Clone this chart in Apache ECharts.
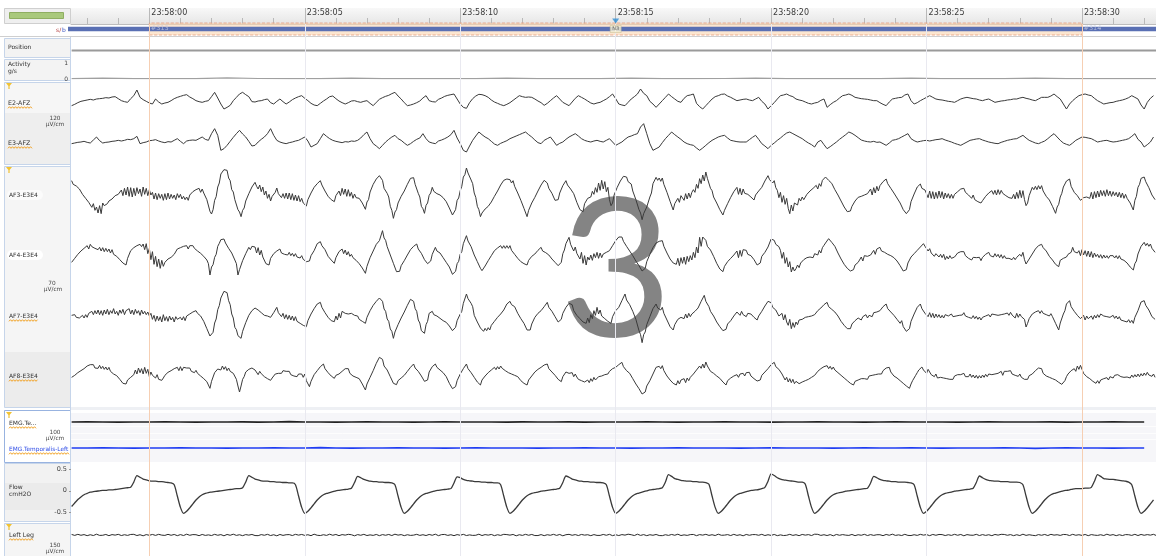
<!DOCTYPE html>
<html>
<head>
<meta charset="utf-8">
<script src="https://cdn.jsdelivr.net/npm/echarts@6.0.0/dist/echarts.min.js"></script>
<style>
html,body{margin:0;padding:0;background:#fff;}
#c{width:1156px;height:556px;}
</style>
</head>
<body>
<div id="c"></div>
<script>
// ---- time base: seconds relative to 23:58:00 ----
const viewStart = -2.52;
const viewEnd = 32.38;
const sampleStart = -2.5;
const majorTicks = [0, 5, 10, 15, 20, 25, 30];
const majorLabels = ['23:58:00', '23:58:05', '23:58:10', '23:58:15', '23:58:20', '23:58:25', '23:58:30'];
const minorTicks = [-2, -1, 1, 2, 3, 4, 6, 7, 8, 9, 11, 12, 13, 14, 16, 17, 18, 19, 21, 22, 23, 24, 26, 27, 28, 29, 31, 32];

// ---- hypnogram ----
const epochStarts = [-30, 0, 30];
const epochNumbers = ['#312', '#313', '#314'];
const epochStages = ['N3', 'N3', 'N3'];
const currentEpochStart = 0;
const epochLength = 30;
const stageDigit = '3';

// ---- body position (one value every 5 s, 2 = supine) ----
const positionVals = [2, 2, 2, 2, 2, 2, 2, 2];

// ---- activity, g/s, 1 Hz ----
const activityVals = [0.02,0.06,0.02,0.03,0.02,0.07,0.03,0.02,0.02,0.05,0.02,0.03,0.02,0.02,0.06,0.02,0.03,0.02,0.05,0.02,0.02,0.03,0.06,0.02,0.02,0.03,0.02,0.05,0.02,0.03,0.02,0.06,0.02,0.02,0.03,0.02];

// ---- E2-AFZ, µV, 10 Hz ----
const e2Afz = [
-17,-13,-8,-4,-2,0,2,0,3,4, 5,7,6,9,10,4,-2,-5,-7,4, 13,30,8,1,-4,-9,-12,3,-6,-12,
-9,-7,-2,4,8,11,14,16,9,4, -2,-5,-7,-4,-2,10,23,6,-12,-27, -22,-16,-2,8,18,23,16,10,-5,-6,
-3,-2,1,3,-8,-12,-4,3,-5,-12, -6,1,6,10,13,5,-2,-10,-15,-17, -10,-3,3,10,12,4,-3,-8,-12,-8,
-3,-2,-5,-7,-4,-2,-10,-17,-7,2, 7,11,14,19,23,12,3,-8,-17,-15, -12,-8,-3,6,13,-2,-5,-6,2,6,
11,14,16,18,3,-12,-22,-25,-8,4, 12,17,16,13,8,0,-6,-10,-14,-17, -13,-8,-1,6,13,10,8,9,8,3,
-3,-8,-16,-10,-2,6,13,3,-7,-12, -17,-6,5,13,8,3,-3,-9,-12,-9, -7,-2,3,10,18,4,-12,-15,-17,-7,
3,10,18,33,20,13,-4,-12,-22,-12, -2,8,18,10,3,-4,-7,5,13,15, 18,-10,-20,-27,-17,-7,3,10,13,17,
18,12,8,3,-2,0,2,3,0,-2, 3,8,-4,-12,-27,-17,-8,3,13,15, 18,13,10,3,0,-2,-6,-10,-12,-9,
-7,-1,3,-22,-14,-7,-2,6,13,15, 18,14,8,6,4,3,2,0,-2,-2, -8,-13,-17,-6,3,5,7,8,15,18,
-2,-12,-8,-2,3,8,13,8,3,1, 0,-2,-4,-5,-7,-2,3,6,8,6, 4,3,0,-2,1,3,-2,-7,-5,-3,
-2,0,1,3,3,6,8,5,3,0, -2,3,8,8,8,12,18,10,3,-12, -27,-12,-2,6,13,16,18,15,13,5,
-2,-7,-12,-10,-8,-7,-4,-2,0,3, 7,13,8,3,-15,-27,-7,5,13
];

// ---- E3-AFZ, µV, 10 Hz ----
const e3Afz = [
-5,-3,-1,0,2,-1,-3,6,15,4, -3,-1,0,2,3,5,3,5,8,7, 10,17,-5,-2,0,4,5,7,3,0,
-2,1,0,5,10,2,-5,3,5,6, 5,10,15,8,5,25,40,20,-25,-20, -10,2,14,25,35,24,15,2,-12,-10,
0,8,15,25,40,20,5,0,-3,-5, -2,0,3,5,10,15,3,-15,-10,-5, 10,25,17,10,5,2,0,-2,1,0,
3,2,5,12,22,30,10,-5,-12,-20, -10,0,8,15,20,10,5,-3,-10,-5, 2,8,12,25,10,0,-3,-5,3,6,
10,15,22,35,12,-5,-25,-30,-12,5, 18,30,22,15,10,2,-6,-10,-4,0, 4,10,14,18,22,26,30,22,15,6,
-2,-5,5,10,15,3,-10,-4,0,8, 15,20,25,18,10,5,2,0,3,5, 2,0,5,10,0,-10,-5,0,8,15,
18,22,25,45,55,25,-5,-25,-20,-15, -2,10,20,30,22,15,8,0,-5,-8, -10,-18,-25,-18,-10,-2,5,10,15,18,
20,12,5,3,1,0,0,0,7,14, 20,8,-5,-12,-20,-10,-3,5,12,20, 27,30,25,20,15,10,3,-3,-8,-15,
0,5,-8,-20,-14,-7,0,8,15,22, 30,26,20,13,6,3,1,0,2,-1, 0,-5,-10,-3,5,7,10,15,20,25,
10,4,0,2,4,5,3,5,7,8, 10,6,3,0,-4,-7,-10,-5,0,5, 7,9,10,6,3,0,-2,-4,-5,-1,
2,5,7,9,10,15,20,12,5,1, -3,-5,-1,3,10,18,25,15,5,-3, -7,-10,-3,5,10,15,14,12,10,5,
0,2,4,5,2,0,1,3,5,7, 10,17,25,8,0,-15,-8,0,15
];

// ---- AF3-E3E4, µV, 20 Hz ----
const af3E3E4 = [
43,32,37,27,33,18,18,2,4,-10,-5,-22,-18,-37,-26,-46,-36,-54,-32,-56,
-24,-32,-28,-26,-18,-18,-12,-12,-2,-4,2,4,15,-2,20,0,24,-4,22,-6,
20,-2,22,4,18,-4,24,2,20,-2,16,0,8,-12,6,-14,4,-10,2,-16,
4,-14,6,-12,2,-10,0,-14,4,-8,2,-12,-4,-14,-6,-16,0,-2,10,6,
16,10,20,8,18,6,4,-14,-17,-49,-57,-44,-16,-5,24,36,63,62,76,73,
74,51,43,16,9,-14,-17,-44,-51,-65,-46,-39,-18,-15,4,6,24,22,38,26,
18,30,10,24,0,12,-10,2,-18,-4,-8,8,21,4,8,-8,4,-10,6,-12,
6,-14,4,-16,0,-18,-2,-20,-10,-24,-20,-33,-14,-12,6,6,23,20,34,30,
43,30,28,12,13,-4,-2,-14,-10,-20,-2,-8,12,-2,20,2,18,-4,16,-4,
8,-10,3,-8,-4,-10,-7,-24,-26,-43,-21,-14,9,15,32,32,48,46,58,52,
44,20,18,5,-6,-34,-46,-70,-51,-44,-24,-20,-4,-5,12,14,32,34,50,50,
52,32,28,5,-6,-34,-41,-55,-31,-24,-1,6,23,11,16,4,10,0,6,-8,
-6,-20,-17,-39,-44,-60,-57,-44,-16,-9,13,26,54,61,81,66,64,45,34,6,
-7,-34,-44,-65,-54,-56,-42,-44,-34,-40,-21,-20,-4,-4,12,15,30,30,44,43,
48,42,46,36,43,26,24,6,3,-16,-20,-40,-44,-65,-46,-44,-24,-22,-7,-6,
12,15,30,30,44,40,36,20,20,5,2,-16,-17,-14,6,10,28,28,43,30,
32,18,23,4,-1,-22,-27,-44,-40,-50,-26,-24,-10,-4,-6,11,2,22,8,36,
14,44,18,40,10,23,-14,-32,-24,0,6,23,24,42,42,56,55,54,40,40,
33,12,8,-14,-17,-44,-54,-74,-56,-54,-36,-35,-6,6,34,36,53,44,51,41,
51,32,28,8,3,-19,-24,-45,-26,-26,-10,-22,-2,-8,-16,4,-12,6,-8,8,
16,8,32,20,49,34,60,42,69,50,44,20,13,-6,-6,-24,-27,-44,-44,-60,
-46,-44,-26,-24,-7,-6,10,8,23,2,20,0,18,5,6,2,0,-6,-4,-15,
0,-2,12,10,23,24,42,42,58,46,49,36,43,22,14,-8,8,-22,-2,-28,
-10,-40,-56,-30,-48,-24,-21,-30,-10,-18,-6,-14,-6,2,-2,12,6,20,14,29,
18,34,26,44,38,54,48,44,44,35,34,16,16,0,-2,-18,-17,-36,-36,-50,
-47,-48,-34,-34,-18,-20,-7,-8,-4,0,0,6,4,5,18,0,22,6,26,12,
28,26,40,36,48,34,34,20,23,6,6,-9,-7,-24,-26,-44,-44,-56,-52,-44,
-20,-14,3,6,24,22,33,20,25,15,14,-8,12,-10,10,-12,8,-10,12,-8,
10,-12,6,-8,4,-10,2,-10,2,0,10,6,18,15,20,8,12,0,4,-10,
0,-14,-8,-20,-14,-24,-17,-18,-4,-6,6,2,13,2,14,0,16,2,14,5,
10,-2,2,-8,-2,-10,2,-12,8,-10,14,-8,13,-14,-32,-24,-2,2,23,16,
26,16,28,18,28,12,12,-4,-2,-15,-16,-34,-36,-55,-36,-28,-6,5,24,26,
42,38,48,26,24,8,13,-2,-2,-16,-12,-8,-10,-6,-6,-10,8,-12,10,-8,
12,-6,14,-2,13,-4,16,-2,12,-4,10,-2,8,-6,8,-8,6,-10,2,-10,
-6,-24,-26,-45,-16,-4,23,32,50,50,54,40,43,22,18,0,-2,-14
];

// ---- AF4-E3E4, µV, 20 Hz ----
const af4E3E4 = [
-22,-24,-10,-12,2,-2,12,8,20,16,28,18,32,25,30,20,26,16,23,12,
22,10,20,10,18,6,16,2,8,-4,0,-14,-12,-24,-20,-30,-10,-6,13,10,
22,18,28,22,32,25,33,16,34,4,20,-14,10,-28,-4,-35,-12,-40,-16,-34,
-22,-26,-12,-18,-7,-10,2,2,18,12,22,16,26,20,28,18,28,22,28,20,
24,12,16,5,8,-4,-2,-15,-26,-60,-36,-29,-7,2,26,35,46,40,48,36,
34,20,23,6,4,-15,-26,-60,-44,-39,-17,-14,4,6,23,16,26,20,24,6,
22,0,14,-6,-4,-26,-27,-30,-10,-10,4,0,12,8,18,6,12,2,8,0,
8,-2,5,-4,4,-6,0,-9,-2,-13,-8,-20,-17,-18,-2,-2,13,16,34,35,
40,28,33,16,14,-4,-1,-15,-12,-25,-8,-8,10,10,18,4,15,0,10,-4,
2,-8,-2,-16,-14,-26,-22,-39,-40,-55,-34,-28,-8,-5,12,14,32,30,43,46,
73,51,44,25,20,0,-4,-25,-31,-50,-52,-49,-32,-32,-17,-16,0,0,16,15,
26,22,33,18,18,5,4,-14,-14,-26,-22,-18,2,4,23,12,18,6,8,-8,
-8,-22,-17,-36,-40,-58,-57,-49,-26,-19,3,10,34,40,58,42,42,25,20,0,
-4,-20,-17,-40,-47,-48,-33,-34,-17,-18,-2,-2,13,9,21,17,28,20,28,20,
28,20,28,14,16,2,3,-10,-8,-20,-17,-26,-20,-30,-16,-18,-4,-8,3,0,
14,10,23,12,18,7,13,0,2,-12,-10,-22,-17,-32,-32,-22,4,15,34,36,
53,32,34,12,24,5,4,-12,8,-25,-2,-30,-6,-15,0,-16,4,-8,8,-10,
6,-8,3,-2,8,2,13,12,28,28,43,40,54,50,54,41,43,26,26,12,
13,-2,-2,-18,-17,-32,-32,-48,-47,-40,-20,-15,2,4,22,25,36,31,41,35,
43,26,24,6,3,-12,-10,-24,-22,-28,-10,-32,-8,-25,-6,-28,-4,-20,-2,-15,
8,-8,24,6,53,26,54,55,44,26,28,15,14,-4,-6,-25,-26,-42,-38,-50,
-34,-34,-20,-25,-10,-12,0,-5,12,-8,14,-4,16,10,14,2,8,-2,3,-14,
-16,-30,-27,-24,-4,-4,8,5,24,28,48,45,44,32,36,25,14,-10,8,-25,
-8,-36,-20,-51,-36,-48,-41,-30,-38,-24,-21,-14,-18,-8,-12,-6,-2,-8,4,9,
0,14,6,22,29,36,42,49,48,38,43,26,24,6,3,-12,-12,-28,-27,-40,
-36,-48,-42,-44,-30,-34,-22,-20,-6,-18,-2,-2,-4,0,0,0,14,2,18,12,
23,12,18,8,13,2,8,-2,3,-8,-4,-18,-17,-32,-32,-48,-47,-44,-24,-20,
-6,-1,4,10,14,19,24,30,34,26,30,12,19,6,12,-4,4,-1,-6,2,
-8,2,-14,-4,-12,-2,-10,-4,-6,-1,6,0,10,5,10,-2,2,-10,-4,-15,
-7,-13,-8,-14,-7,-17,-7,-10,2,-2,8,-2,4,-6,4,-5,2,-8,1,-10,
-2,-10,-4,-10,-5,-14,-7,-14,-7,-10,2,-4,8,-14,-27,-28,-12,-12,3,2,
18,16,28,25,32,22,28,12,12,-4,-2,-15,-14,-28,-24,-35,-16,-12,-10,-5,
-6,2,6,8,23,10,16,6,13,-2,16,0,13,-4,12,-6,10,-8,6,-5,
2,-8,1,-10,0,-9,-2,-10,-2,-8,-2,-9,-2,-11,-2,-12,-6,-16,-12,-24,
-22,-36,-32,-45,-26,-18,3,6,26,30,38,28,35,26,33,20,22,8
];

// ---- AF7-E3E4, µV, 20 Hz ----
const af7E3E4 = [
2,-2,4,-4,0,-6,-3,2,-6,4,-4,8,2,14,4,16,6,18,4,16,
2,18,6,20,4,16,8,22,6,14,2,18,8,20,4,16,10,22,6,18,
4,20,8,16,2,18,6,14,4,12,0,8,-10,2,-16,0,-14,-2,-18,4,
-14,-2,-16,0,-12,-4,-18,-2,-10,-6,-4,-12,-2,-14,0,-6,6,2,12,6,
16,8,14,0,0,-16,-18,-38,-42,-60,-59,-49,-21,-9,19,31,54,58,74,73,
70,46,34,6,-6,-34,-41,-59,-56,-67,-46,-40,-20,-16,2,2,16,12,24,18,
18,14,10,8,2,2,0,-6,-4,-4,10,10,26,10,12,-2,8,-8,4,-10,
2,-12,0,-14,-2,-16,-10,-22,-16,-28,-22,-32,-14,-12,6,6,22,22,36,32,
41,26,26,10,10,-4,-2,-14,-8,-17,0,-12,8,-6,14,8,8,10,6,6,
8,2,2,-4,0,-10,-6,-16,-12,-22,-4,-2,16,16,32,30,44,42,54,48,
44,21,14,-9,-16,-39,-46,-67,-48,-44,-26,-24,-6,-6,12,14,32,34,50,48,
44,22,14,-12,-21,-44,-42,-52,-26,-16,8,8,14,4,10,0,6,-7,-2,-14,
-8,-19,-14,-30,-30,-44,-39,-34,-14,-12,6,14,38,44,66,52,52,38,28,2,
-4,-18,-16,-36,-39,-46,-37,-44,-35,-42,-28,-30,-16,-18,-4,-7,6,4,18,16,
36,38,44,34,39,28,26,8,6,-8,-4,-22,-24,-42,-44,-42,-24,-22,-4,-6,
8,4,16,14,28,26,41,26,28,14,16,-2,-4,-18,-14,-10,8,8,26,24,
38,33,34,16,16,2,6,-8,-6,-18,-12,-22,-6,-20,4,-8,16,2,26,6,
18,0,6,-8,-4,-16,-10,-22,-2,0,16,14,26,28,46,48,66,48,48,34,
36,14,10,-10,-14,-44,-56,-80,-56,-48,-26,-22,-2,2,22,22,36,24,29,18,
26,8,6,-12,-14,-32,-30,-42,-26,-24,-10,-10,-4,2,-8,6,-6,8,-2,6,
4,14,12,24,30,44,40,62,44,38,28,14,16,0,-2,-18,-18,-32,-30,-44,
-39,-40,-24,-26,-14,-14,0,-2,12,8,2,14,4,10,-2,8,2,6,0,-4,
-2,-12,0,-2,14,14,30,30,44,38,40,26,30,18,16,0,-6,8,-12,4,
-18,-28,-10,-38,-20,-34,-18,-26,-12,-18,-10,-12,-4,-8,-2,2,0,6,4,10,
16,12,24,22,34,30,41,28,32,20,24,12,16,0,0,-16,-14,-28,-26,-38,
-34,-38,-24,-26,-14,-18,-6,-12,-12,-2,-8,4,-6,2,8,-2,10,4,12,6,
16,14,28,24,36,22,24,12,16,2,4,-10,-8,-22,-14,-32,-32,-46,-44,-38,
-16,-12,6,8,26,24,36,22,24,8,10,-2,10,-4,8,-6,6,-4,4,-6,
2,-6,4,-2,0,-4,6,-2,4,0,6,2,8,3,10,0,6,-4,2,-7,
1,-8,-1,-10,-3,-12,-4,-10,0,-6,4,-3,6,0,4,2,2,2,4,-2,
6,0,9,2,11,3,8,-6,8,-4,6,-2,2,-10,-33,-22,-8,-8,6,2,
12,6,16,8,16,8,14,4,10,0,7,-2,-4,-22,-24,-42,-21,-16,6,16,
36,34,46,28,28,14,16,2,4,-8,-8,2,-12,0,-8,-14,0,-10,2,-6,
4,-4,6,2,0,4,-2,2,-4,0,2,-7,0,-9,-2,-12,-6,-15,-9,-18,
-11,-20,-13,-22,-4,-2,16,22,42,43,46,32,36,18,16,-2,0,-10
];

// ---- AF8-E3E4, µV, 20 Hz ----
const af8E3E4 = [
-4,-8,2,-2,10,4,16,10,22,18,30,24,34,28,34,24,30,23,32,22,
29,20,27,18,26,14,18,6,12,1,6,-10,-8,-22,-19,-24,-12,-16,-4,-6,
4,18,6,24,10,22,6,26,8,20,-2,12,2,8,-6,4,-10,-4,-13,-6,
2,-2,11,6,16,12,22,16,26,16,28,16,26,20,24,18,24,14,20,10,
17,8,12,0,4,-8,-4,-17,-18,-37,-16,-10,10,8,21,18,18,30,20,28,
16,24,14,20,8,12,-10,-30,-48,-30,-10,-2,12,8,20,14,24,18,18,14,
4,14,7,10,-2,4,-8,-4,-13,-6,0,6,12,8,14,8,16,10,14,12,
14,4,10,0,6,-2,6,0,6,-4,6,-14,-16,-32,-16,-14,4,3,16,14,
28,24,36,22,24,10,12,0,4,-7,2,-4,6,2,14,10,22,18,22,8,
12,0,6,-4,2,-8,-4,-24,-26,-42,-24,-22,-4,-2,16,18,38,40,56,53,
50,30,30,18,16,-2,-4,-22,-24,-26,-14,-18,-6,-12,2,0,14,12,26,24,
36,24,28,14,16,0,0,-16,-14,-12,12,14,28,24,36,26,30,18,22,10,
16,-2,-4,-22,-24,-38,-34,-32,-14,-12,6,6,22,22,36,22,24,10,11,-4,
-4,-18,-16,-27,-12,-14,0,-2,10,6,18,14,26,19,28,21,30,23,28,16,
20,10,16,6,12,2,8,-2,0,-14,-10,-22,-18,-27,-12,-14,0,-2,12,8,
20,15,26,22,33,27,36,22,24,12,16,2,4,-10,-6,-17,-2,-2,12,8,
8,4,10,-2,6,-3,-10,-6,-14,-10,-18,-23,-12,-20,-8,-16,-4,-12,-8,-2,
-6,0,-4,4,2,6,14,10,22,16,26,22,34,30,41,28,30,16,20,8,
8,-8,-8,-24,-22,-38,-38,-54,-49,-48,-30,-30,-14,-12,6,8,26,20,29,22,
31,16,16,0,1,-12,-8,-22,-18,-27,-14,-24,-12,-18,-8,-20,-6,-14,-4,-8,
6,4,18,16,30,23,36,24,42,30,30,14,18,8,12,0,4,-7,-4,-18,
-14,-27,-14,-16,-6,-12,0,-6,4,-4,6,2,8,0,10,4,11,0,6,-8,
-4,-15,-9,-12,2,0,12,8,22,20,34,30,41,28,32,20,26,6,4,-12,
-4,-18,-8,-20,-10,-23,-16,-22,-23,-20,-18,-16,-14,-12,-10,-8,-4,-2,2,7,
14,10,22,16,28,22,31,22,29,20,27,18,22,10,14,2,6,-6,-2,-14,
-10,-22,-18,-27,-16,-22,-12,-18,-8,-14,-8,-2,-10,0,-6,2,-2,4,0,6,
12,6,16,12,24,18,26,12,14,0,6,-6,-2,-14,-9,-22,-18,-30,-26,-37,
-24,-14,-6,2,10,18,22,27,18,24,8,20,12,4,10,-2,6,-6,-8,-4,
-10,-6,-12,-8,-13,-10,-4,-10,0,-6,4,-2,4,-2,8,-2,4,-2,6,-4,
3,-6,2,-7,1,-6,3,-4,5,-2,6,0,4,2,6,4,8,3,14,2,
14,8,14,8,16,6,12,2,8,-1,6,-4,0,-10,-4,-10,1,-4,6,4,
16,12,24,18,22,8,12,0,6,-4,2,-8,-2,-12,-8,-19,-14,-25,-19,-14,
-2,6,12,16,20,22,14,30,20,32,20,8,10,-2,4,-8,-4,-16,-11,-22,
-14,-22,-12,-18,-8,-14,-5,-12,-2,-6,-6,2,-4,4,2,-2,4,-4,2,-3,
1,-6,3,-4,4,-3,6,-2,7,0,9,2,11,3,9,-1,6,-4
];

// ---- EMG, µV, 2 Hz ----
const emgTe = [
0,1,0,-1,0,0,1,0,-1,0, 0,1,-1,0,2,0,0,-1,0,1, 0,0,-1,0,1,0,0,0,-1,1,
0,0,1,-1,0,0,0,1,0,-1, 0,0,1,0,0,-1,0,0,1,0, 0,-1,0,1,0,0,0,-1,0,1,
0,0,0,1,-1,0,0,1,0,0
];
const emgTemporalisLeft = [
0,0,1,0,-1,0,0,1,0,0, -1,0,0,1,0,0,2,0,-1,0, 0,1,0,0,-1,0,1,0,0,0,
-1,0,0,1,0,0,-1,0,0,1, 0,0,0,-1,0,1,0,0,0,-1, 0,1,0,0,1,0,-1,0,0,0,
1,0,-2,0,1,0,0,-1,0,0
];

// ---- Flow, cmH2O, 10 Hz ----
const flowVals = [
-0.36,-0.28,-0.2,-0.14,-0.09,-0.06,-0.03,-0.02,-0.01,0,0.01,0.01,0.02,0.02,0.03,0.04,0.05,0.06,0.07,0.08,0.2,0.35,
0.31,0.27,0.25,0.23,0.22,0.22,0.21,0.21,0.2,0.19,0.18,0.14,-0.12,-0.38,-0.52,
-0.47,-0.39,-0.3,-0.21,-0.14,-0.09,-0.06,-0.04,-0.03,-0.02,-0.01,0,0.01,0.02,0.03,0.04,0.05,0.05,0.07,0.2,0.35,
0.31,0.27,0.25,0.23,0.22,0.22,0.21,0.21,0.2,0.2,0.19,0.19,0.18,0.18,0.14,-0.12,-0.38,-0.52,
-0.47,-0.39,-0.3,-0.21,-0.14,-0.09,-0.06,-0.04,-0.02,0,0.01,0.02,0.03,0.04,0.06,0.19,0.33,
0.3,0.26,0.24,0.22,0.21,0.21,0.2,0.2,0.19,0.19,0.18,0.14,-0.12,-0.38,-0.52,
-0.47,-0.39,-0.3,-0.21,-0.14,-0.09,-0.06,-0.04,-0.02,0,0.01,0.02,0.03,0.04,0.05,0.18,0.32,
0.3,0.26,0.24,0.23,0.22,0.21,0.21,0.2,0.2,0.19,0.19,0.18,0.18,0.14,-0.12,-0.38,-0.52,
-0.47,-0.39,-0.3,-0.21,-0.14,-0.09,-0.06,-0.04,-0.03,-0.01,0,0.01,0.02,0.03,0.04,0.06,0.19,0.34,
0.31,0.27,0.25,0.23,0.22,0.21,0.21,0.2,0.2,0.19,0.19,0.18,0.14,-0.12,-0.38,-0.52,
-0.47,-0.39,-0.3,-0.21,-0.14,-0.09,-0.06,-0.04,-0.02,0,0.02,0.03,0.04,0.05,0.07,0.2,0.37,
0.33,0.28,0.26,0.24,0.23,0.22,0.22,0.21,0.21,0.2,0.2,0.19,0.15,-0.12,-0.38,-0.52,
-0.47,-0.39,-0.3,-0.21,-0.14,-0.09,-0.06,-0.04,-0.02,0,0.01,0.02,0.03,0.05,0.08,0.22,0.39,
0.35,0.3,0.27,0.25,0.24,0.23,0.22,0.21,0.2,0.2,0.15,-0.12,-0.38,-0.52,
-0.47,-0.39,-0.3,-0.21,-0.14,-0.09,-0.06,-0.04,-0.03,-0.01,0,0.01,0.02,0.03,0.04,0.05,0.06,0.18,0.33,
0.3,0.26,0.24,0.23,0.22,0.21,0.21,0.2,0.2,0.2,0.19,0.18,0.14,-0.12,-0.38,-0.52,
-0.47,-0.39,-0.3,-0.21,-0.14,-0.09,-0.06,-0.04,-0.03,-0.01,0,0.01,0.02,0.03,0.04,0.06,0.19,0.34,
0.3,0.26,0.24,0.23,0.22,0.22,0.21,0.21,0.21,0.2,0.2,0.2,0.19,0.14,-0.12,-0.38,-0.52,
-0.47,-0.39,-0.3,-0.21,-0.14,-0.09,-0.06,-0.04,-0.02,0,0.01,0.02,0.04,0.05,0.05,0.05,0.06,0.06,0.08,0.22,0.37,
0.33,0.28,0.27,0.26,0.26,0.25,0.24,0.23,0.22,0.2,0.14,-0.12,-0.38,-0.52,
-0.47,-0.39,-0.3,-0.21
];

// ---- Left Leg EMG, µV, 10 Hz ----
const leftLeg = [
4,-3,5,-2,3,-5,2,-4,6,-3, -2,4,-5,3,-1,5,-4,2,-3,4, 5,-4,2,-6,3,-2,4,-3,5,-1,
-3,5,-2,4,-5,3,-4,6,-2,3, 2,-5,4,-3,1,-4,5,-2,3,-6, 4,-2,6,-3,2,-5,3,-1,4,-4,
-5,3,-2,5,-4,2,-6,4,-3,2, 3,-4,5,-1,4,-3,2,-5,6,-2, -4,2,-3,6,-2,4,-5,3,-1,5,
2,-6,3,-2,5,-4,1,-3,4,-5, 3,-2,4,-4,6,-1,3,-5,2,-3, -1,5,-3,2,-4,4,-2,6,-5,3,
4,-3,2,-5,3,-2,5,-4,1,-3, -2,6,-4,3,-1,4,-5,2,-3,5, 3,-1,4,-6,2,-3,5,-2,4,-4,
-4,3,-5,2,-2,5,-3,4,-6,2, 5,-2,3,-4,4,-1,2,-5,3,-3, -3,4,-2,5,-5,2,-4,3,-1,6,
2,-4,6,-3,3,-5,2,-2,4,-4, -5,2,-3,4,-2,6,-4,1,-3,3, 4,-5,3,-1,5,-3,2,-4,6,-2,
-1,3,-4,5,-3,2,-6,4,-2,3, 3,-2,5,-4,2,-3,4,-5,1,-4, -2,5,-3,2,-5,4,-1,3,-4,6,
5,-3,2,-4,3,-6,4,-2,3,-1, -3,4,-5,2,-2,5,-4,3,-3,2, 2,-5,4,-2,6,-3,1,-4,5,-3,
-4,2,-3,5,-1,3,-5,4,-2,4, 3,-4,2,-3,5,-2,4,-6,3,-1, -2,5,-4,3,-3,2,-5,4,-1,5,
4,-2,3,-5,2,-4,6,-3,2,-2, -5,3,-2,4,-4,5,-1,2,-3,4, 3,-4,5,-2,2,-3,4,-5,3,-1,
-3,2,-4,6,-2,3,-5,2,-4,3, 2,-3,5,-4,4,-2,3,-1,5,-5
];

// ---------------- layout ----------------
const PLOT_LEFT = 71;
const PLOT_WIDTH = 1085;
const FONT = '"DejaVu Sans", sans-serif';

const grids = [], xAxes = [], yAxes = [], series = [];

function addGrid(top, height, yOpt) {
  const gi = grids.length;
  grids.push({ left: PLOT_LEFT, top: top, width: PLOT_WIDTH, height: height, containLabel: false });
  xAxes.push({ gridIndex: gi, type: 'value', min: viewStart, max: viewEnd, show: false });
  yAxes.push(Object.assign({ gridIndex: gi, type: 'value', show: false, splitLine: { show: false } }, yOpt));
  return { x: xAxes.length - 1, y: yAxes.length - 1, g: gi };
}

function addTrace(ax, values, rate, lineStyle, extra) {
  series.push(Object.assign({
    type: 'line',
    xAxisIndex: ax.x, yAxisIndex: ax.y,
    data: values.map((v, i) => [sampleStart + i / rate, v]),
    showSymbol: false, symbol: 'none', silent: true, animation: false,
    clip: false,
    lineStyle: lineStyle, z: 3
  }, extra || {}));
}

// time header
const headerGrid = grids.length;
grids.push({ left: PLOT_LEFT, top: 8, width: PLOT_WIDTH, height: 16 });
xAxes.push({
  gridIndex: headerGrid, type: 'value', min: viewStart, max: viewEnd, position: 'bottom',
  axisLine: { show: true, onZero: false, lineStyle: { color: '#bdbdbd', width: 1 } },
  axisTick: { show: true, inside: true, length: 16, customValues: majorTicks, lineStyle: { color: '#b9b9b9' } },
  axisLabel: {
    show: true, inside: true, customValues: majorTicks, margin: 11,
    align: 'left', verticalAlign: 'middle', padding: [0, 0, 0, 2],
    fontSize: 8, fontFamily: FONT, color: '#3a3a3a',
    formatter: v => majorLabels[majorTicks.indexOf(v)]
  },
  splitLine: { show: false }
});
xAxes.push({
  gridIndex: headerGrid, type: 'value', min: viewStart, max: viewEnd, position: 'bottom',
  axisLine: { show: false, onZero: false },
  axisTick: { show: true, inside: true, length: 6, customValues: minorTicks, lineStyle: { color: '#b9b9b9' } },
  axisLabel: { show: false },
  splitLine: { show: false }
});
yAxes.push({ gridIndex: headerGrid, type: 'value', min: 0, max: 1, show: false });

// vertical time grid across all channels
const overlay = addGrid(24, 532, { min: 0, max: 1 });
series.push({
  type: 'line', xAxisIndex: overlay.x, yAxisIndex: overlay.y, data: [], silent: true, z: 1,
  markLine: {
    silent: true, symbol: ['none', 'none'], animation: false, label: { show: false },
    data: majorTicks.map(v => ({
      xAxis: v,
      lineStyle: { type: 'solid', width: 1, color: (v === currentEpochStart || v === currentEpochStart + epochLength) ? '#f6cfb3' : '#e9e9f0' }
    }))
  }
});

// hypnogram strip
const hyp = addGrid(23, 12, { min: -1, max: 1 });
const stageLevel = { N3: 0 };
const hypData = [];
epochStarts.forEach((s, k) => { hypData.push([s, stageLevel[epochStages[k]]]); hypData.push([s + epochLength, stageLevel[epochStages[k]]]); });
series.push({
  type: 'line', xAxisIndex: hyp.x, yAxisIndex: hyp.y, data: hypData, showSymbol: false, symbol: 'none',
  silent: true, animation: false, clip: true, z: 4,
  lineStyle: { color: '#5a70b4', width: 4.5 },
  markArea: {
    silent: true,
    itemStyle: { color: 'rgba(250,214,176,0.6)', borderColor: '#e59c7e', borderType: 'dashed', borderWidth: 0.8 },
    data: [[{ xAxis: currentEpochStart }, { xAxis: currentEpochStart + epochLength }]]
  }
});
series.push({
  type: 'scatter', xAxisIndex: hyp.x, yAxisIndex: hyp.y, silent: true, animation: false, z: 6,
  symbolSize: 1, itemStyle: { color: 'rgba(0,0,0,0)' },
  data: epochStarts.map((s, k) => [s, 0, epochNumbers[k]]),
  label: { show: true, position: 'right', distance: 1, offset: [0, -1], formatter: p => p.data[2], fontSize: 6.5, fontFamily: FONT, color: '#c4cae2' }
});
series.push({
  type: 'scatter', xAxisIndex: hyp.x, yAxisIndex: hyp.y, silent: true, animation: false, z: 7,
  symbol: 'rect', symbolSize: [11, 7],
  itemStyle: { color: '#f7f2d4', borderColor: '#c4b98e', borderWidth: 0.6 },
  data: [[currentEpochStart + epochLength / 2, 0]],
  label: { show: true, position: 'inside', formatter: epochStages[1], fontSize: 5, fontFamily: FONT, color: '#444' }
});
series.push({
  type: 'scatter', xAxisIndex: hyp.x, yAxisIndex: hyp.y, silent: true, animation: false, z: 7,
  symbol: 'triangle', symbolRotate: 180, symbolSize: [7, 5], symbolOffset: [0, -8],
  itemStyle: { color: '#2f8fd5' },
  data: [[currentEpochStart + epochLength / 2, 0]]
});

// position
const pos = addGrid(43, 15, { min: 0, max: 4 });
series.push({
  type: 'line', xAxisIndex: pos.x, yAxisIndex: pos.y, clip: true, silent: true, animation: false,
  data: positionVals.map((v, i) => [sampleStart + i * 5, v]), showSymbol: false, symbol: 'none',
  lineStyle: { color: '#9a9a9a', width: 2 }, z: 3
});

// activity
const act = addGrid(63, 16, {
  min: 0, max: 1, interval: 1, show: true,
  axisLine: { show: false, onZero: false }, axisTick: { show: false },
  axisLabel: { show: true, fontSize: 6, fontFamily: FONT, color: '#444', margin: 3 }
});
addTrace(act, activityVals, 1, { color: '#a0a0a0', width: 1.2 }, { clip: true });

// EEG channels
const eegStyle = { color: '#3a3a3a', width: 1 };
addTrace(addGrid(70, 60, { min: -90, max: 90 }), e2Afz, 10, eegStyle);
addTrace(addGrid(112, 60, { min: -90, max: 90 }), e3Afz, 10, eegStyle);
addTrace(addGrid(165, 60, { min: -90, max: 90 }), af3E3E4, 20, eegStyle);
addTrace(addGrid(225, 60, { min: -90, max: 90 }), af4E3E4, 20, eegStyle);
addTrace(addGrid(286, 60, { min: -90, max: 90 }), af7E3E4, 20, eegStyle);
addTrace(addGrid(346, 60, { min: -90, max: 90 }), af8E3E4, 20, eegStyle);

// EMG
addTrace(addGrid(412, 20, { min: -50, max: 50 }), emgTe, 2, { color: '#222', width: 1.7 });
addTrace(addGrid(438, 20, { min: -50, max: 50 }), emgTemporalisLeft, 2, { color: '#1f3cf2', width: 1.7 });

// flow
const flow = addGrid(469, 43.6, {
  min: -0.5, max: 0.5, interval: 0.5, show: true,
  axisLine: { show: false, onZero: false },
  axisTick: { show: true, length: 2, lineStyle: { color: '#999' } },
  axisLabel: { show: true, fontSize: 6.5, fontFamily: FONT, color: '#444', margin: 4 }
});
addTrace(flow, flowVals, 10, { color: '#3a3a3a', width: 1.3 }, { smooth: 0.25 });

// left leg
addTrace(addGrid(525, 20, { min: -75, max: 75 }), leftLeg, 10, { color: '#2a2a2a', width: 1 });

// ---------------- panel decoration ----------------
const gfx = [];
function box(x, y, w, h, fill, stroke, z, r) {
  gfx.push({ type: 'rect', silent: true, z: z === undefined ? -10 : z,
    shape: { x: x, y: y, width: w, height: h, r: r || 0 },
    style: { fill: fill, stroke: stroke || null, lineWidth: 1 } });
}
function hline(x1, x2, y, color) {
  gfx.push({ type: 'line', silent: true, z: -9, shape: { x1: x1, y1: y, x2: x2, y2: y }, style: { stroke: color, lineWidth: 1 } });
}
function vline(x, y1, y2, color) {
  gfx.push({ type: 'line', silent: true, z: -9, shape: { x1: x, y1: y1, x2: x, y2: y2 }, style: { stroke: color, lineWidth: 1 } });
}
function txt(x, y, s, size, color, align) {
  gfx.push({ type: 'text', silent: true, z: -4, x: x, y: y,
    style: { text: s, fontSize: size, fontFamily: FONT, fill: color || '#333', align: align || 'left', verticalAlign: 'middle' } });
}
function wavy(x1, x2, y) {
  const pts = [];
  for (let x = x1, k = 0; x <= x2; x += 1.5, k++) pts.push([x, y + (k % 2 ? -0.8 : 0.8)]);
  gfx.push({ type: 'polyline', silent: true, z: -4, shape: { points: pts }, style: { stroke: '#f2a224', lineWidth: 1, fill: null } });
}
function funnel(x, y) {
  gfx.push({ type: 'polygon', silent: true, z: -4,
    shape: { points: [[x, y], [x + 6, y], [x + 3.6, y + 3], [x + 3.6, y + 6], [x + 2.4, y + 6], [x + 2.4, y + 3]] },
    style: { fill: '#f1c232' } });
}

// header strip
box(71, 8, 1085, 16, new echarts.graphic.LinearGradient(0, 0, 0, 1, [{ offset: 0, color: '#f8f8f8' }, { offset: 1, color: '#e6e6e6' }]), null, -11);
box(4.5, 8.5, 66, 15, '#efefef', '#cfcfcf');
box(9.5, 12.5, 54, 6, '#a9c97c', '#8fae62', -9);
hline(0, 1156, 36.5, '#cfcfcf');
txt(56, 30, 's/', 6, '#b23a3a');
txt(62, 30, 'b', 6, '#3c55c0');

// plot-area bands
box(71, 407, 1085, 3, '#eef0f4', null, -11);
box(71, 413, 1085, 49, '#f6f6f9', null, -11);
hline(71, 1156, 426.5, '#fdfdfd');
hline(71, 1156, 433.5, '#fdfdfd');
hline(71, 1156, 439.5, '#fdfdfd');

// channel label column
const panelStroke = '#c6d5ea';
box(4.5, 38.5, 66, 19, '#f3f3f3', panelStroke);
box(4.5, 59.5, 66, 21, '#f3f3f3', panelStroke);
box(4.5, 82.5, 66, 82, '#f6f6f6', panelStroke);
box(5, 113, 65, 51, '#eeeeee', null, -9);
box(4.5, 166.5, 66, 241, '#f5f5f5', panelStroke);
box(5, 352, 65, 55, '#ececec', null, -9);
box(7, 190, 36, 10, '#fbfbfb', null, -8, 5);
box(7, 250, 36, 10, '#ffffff', null, -8, 5);
box(4.5, 410.5, 66, 52, '#ffffff', '#98b3e0');
box(4.5, 463.5, 66, 58, '#f2f2f2', panelStroke);
box(5, 483, 65, 27, '#ebebeb', null, -9);
box(4.5, 523.5, 66, 33, '#f5f5f5', panelStroke);
vline(70.5, 37, 556, '#c6d5ea');

txt(8, 47.5, 'Position', 6);
txt(8, 64.5, 'Activity', 6);
txt(8, 71.5, 'g/s', 6);

funnel(6, 83);
txt(8, 103, 'E2-AFZ', 6.3); wavy(8, 33, 107.5);
txt(55, 118, '120', 5.8, '#444', 'center');
txt(55, 124.5, 'µV/cm', 5.8, '#444', 'center');
txt(8, 143, 'E3-AFZ', 6.3); wavy(8, 33, 147.5);

funnel(6, 167);
txt(9, 195, 'AF3-E3E4', 6);
txt(9, 255, 'AF4-E3E4', 6);
txt(52, 283, '70', 5.8, '#444', 'center');
txt(53, 289.5, 'µV/cm', 5.8, '#444', 'center');
txt(9, 316, 'AF7-E3E4', 6); wavy(9, 38, 320.5);
txt(9, 376, 'AF8-E3E4', 6); wavy(9, 38, 380.5);

funnel(6, 412);
txt(9, 423, 'EMG.Te...', 6); wavy(9, 37, 427.5);
txt(55, 432, '100', 5.8, '#444', 'center');
txt(55, 438.5, 'µV/cm', 5.8, '#444', 'center');
txt(9, 449, 'EMG.Temporalis-Left', 5.8, '#2a48e6'); wavy(9, 69, 453.5);

txt(9, 487, 'Flow', 6);
txt(9, 494.5, 'cmH2O', 6);

funnel(6, 524);
txt(9, 535, 'Left Leg', 6.3); wavy(9, 34, 539.5);
txt(55, 545, '150', 5.8, '#444', 'center');
txt(55, 551.5, 'µV/cm', 5.8, '#444', 'center');

// sleep stage of the displayed epoch
gfx.push({ type: 'text', silent: true, z: -3, x: 616, y: 273,
  style: { text: stageDigit, fontSize: 195, fontFamily: 'Lato, "Open Sans", sans-serif', fill: 'rgba(112,112,112,0.86)', align: 'center', verticalAlign: 'middle' } });

const chart = echarts.init(document.getElementById('c'), null, { renderer: 'canvas', width: 1156, height: 556 });
chart.setOption({
  animation: false,
  backgroundColor: '#ffffff',
  grid: grids,
  xAxis: xAxes,
  yAxis: yAxes,
  series: series,
  graphic: { elements: gfx }
});
</script>
</body>
</html>
